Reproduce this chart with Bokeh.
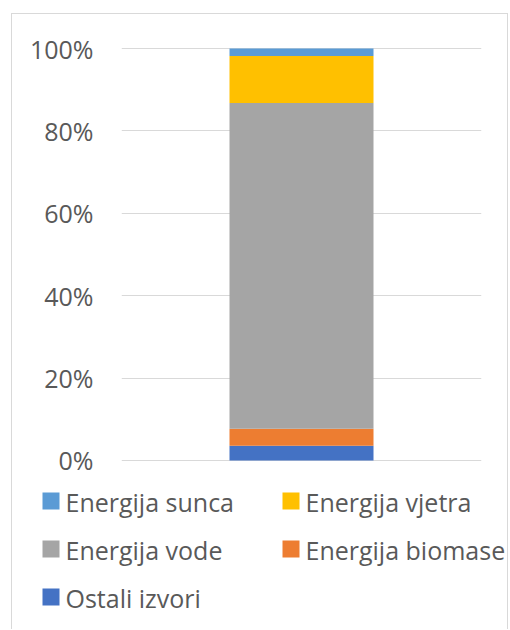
from bokeh.plotting import figure
from bokeh.layouts import column
from bokeh.models import PrintfTickFormatter, FactorRange, Range1d, ColumnDataSource
from bokeh.core.properties import value
from bokeh.embed import file_html
from bokeh.resources import INLINE

categories = ["2019"]
series = ["Ostali izvori", "Energija biomase", "Energija vode", "Energija vjetra", "Energija sunca"]
ostali = [3.6]
biomase = [4.1]
vode = [79.1]
vjetra = [11.4]
sunca = [1.8]
colors = ["#4472C4", "#ED7D31", "#A5A5A5", "#FFC000", "#5B9BD5"]
y_ticks = [0, 20, 40, 60, 80, 100]
legend_order = ["Energija sunca", "Energija vjetra", "Energija vode", "Energija biomase", "Ostali izvori"]

source = ColumnDataSource(data={
    "cat": categories,
    "Ostali izvori": ostali,
    "Energija biomase": biomase,
    "Energija vode": vode,
    "Energija vjetra": vjetra,
    "Energija sunca": sunca,
})

FONT = "Open Sans"
TXT = "#595959"
BORDER = "1px solid #d9d9d9"

# ---- main chart ----
p = figure(width=497, height=471, output_backend="svg", toolbar_location=None,
           x_range=FactorRange(factors=categories, range_padding=0),
           y_range=Range1d(-0.25, 100.25),
           min_border_left=109, min_border_right=28, min_border_top=33, min_border_bottom=24)
p.styles = {"border-left": BORDER, "border-top": BORDER, "border-right": BORDER}
p.frame_align = False

p.vbar_stack(series, x="cat", width=0.4, source=source, color=colors, line_color=None)

p.xaxis.visible = False
p.xgrid.visible = False
p.outline_line_color = None
p.ygrid.grid_line_color = "#d9d9d9"
p.ygrid.grid_line_width = 1
ax = p.yaxis[0]
ax.ticker = y_ticks
ax.formatter = PrintfTickFormatter(format="%d%%")
ax.axis_line_color = None
ax.major_tick_line_color = None
ax.minor_tick_line_color = None
ax.major_tick_in = 0
ax.major_tick_out = 0
ax.minor_tick_in = 0
ax.minor_tick_out = 0
ax.major_label_standoff = 28
ax.major_label_text_font = FONT
ax.major_label_text_font_size = "25px"
ax.major_label_text_color = TXT

# ---- legend panel ----
LW, LH = 497, 145
q = figure(width=LW, height=LH, output_backend="svg", toolbar_location=None,
           x_range=Range1d(0, LW), y_range=Range1d(LH, 0),
           min_border=0)
q.styles = {"border-left": BORDER, "border-right": BORDER}
q.frame_align = False
q.axis.visible = False
q.grid.visible = False
q.outline_line_color = None

color_of = dict(zip(series, colors))
col_x0, col_step = 38.5, 240
row_y0, row_step = 16.5, 48
idx = list(range(len(legend_order)))
sq_x = [col_x0 + (i % 2) * col_step for i in idx]
sq_y = [row_y0 + (i // 2) * row_step for i in idx]
leg_src = ColumnDataSource(data={
    "x": sq_x,
    "y": sq_y,
    "tx": [x + 14.5 for x in sq_x],
    "ty": [y + 0.5 for y in sq_y],
    "label": legend_order,
    "color": [color_of[n] for n in legend_order],
})
q.rect(x="x", y="y", width=17, height=17, width_units="screen", height_units="screen",
       fill_color="color", line_color=None, source=leg_src)
q.text(x="tx", y="ty", text="label", source=leg_src, text_font=value(FONT),
       text_font_size="25px", text_color=TXT, text_baseline="alphabetic", text_align="left")

layout = column(p, q, spacing=0, margin=(13, 0, 0, 11))
open("out.html", "w").write(file_html(layout, INLINE))
